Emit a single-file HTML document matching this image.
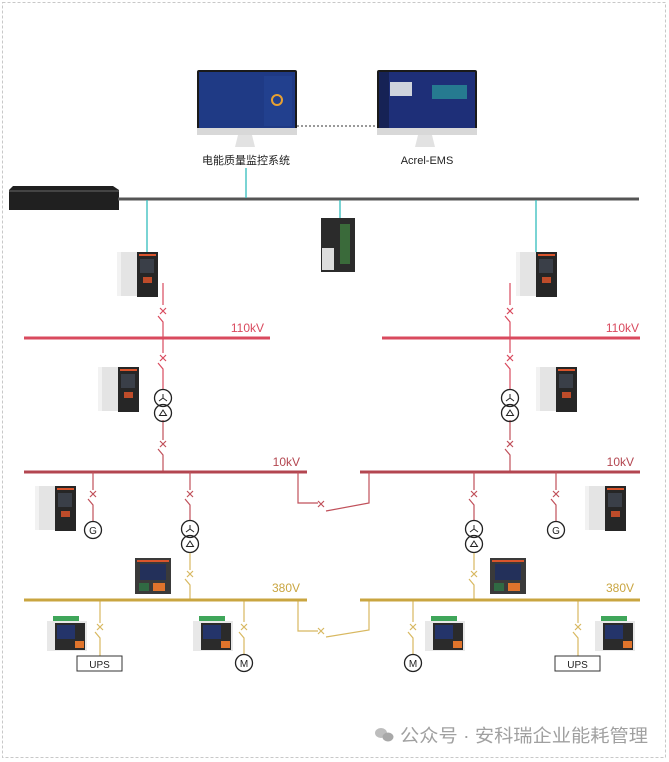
<!DOCTYPE html>
<html><head><meta charset="utf-8"><style>
html,body{margin:0;padding:0;background:#fff;}
svg{display:block;}
text{font-family:"Liberation Sans","Noto Sans CJK SC",sans-serif;}
</style></head><body>
<svg width="669" height="762" viewBox="0 0 669 762" xmlns="http://www.w3.org/2000/svg">
<defs>
<g id="relay">
  <rect x="0" y="0" width="22" height="44" fill="#e4e4e4"/>
  <rect x="0" y="0" width="4" height="44" fill="#f2f2f2"/>
  <rect x="20" y="0" width="21" height="45" fill="#262626"/>
  <rect x="22" y="2" width="17" height="2" fill="#d9542c"/>
  <rect x="23" y="7" width="14" height="14" fill="#3a3f48"/>
  <rect x="26" y="25" width="9" height="6" fill="#d9542c" opacity=".85"/>
</g>
<g id="meter">
  <rect x="0" y="0" width="36" height="36" fill="#3a3a3a"/>
  <rect x="2" y="2" width="32" height="2" fill="#d9542c"/>
  <rect x="5" y="6" width="26" height="16" fill="#23305a"/>
  <rect x="4" y="25" width="10" height="8" fill="#2a8a4a" opacity=".6"/>
  <rect x="18" y="25" width="12" height="8" fill="#e0742c"/>
</g>
<g id="din">
  <rect x="6" y="0" width="26" height="5" fill="#3fa65a"/>
  <rect x="0" y="5" width="40" height="30" fill="#e8e8e8"/>
  <rect x="8" y="7" width="30" height="27" fill="#2b2b2b"/>
  <rect x="10" y="9" width="18" height="14" fill="#24346a"/>
  <rect x="28" y="25" width="9" height="7" fill="#e0742c"/>
</g>
<g id="xf">
  <circle cx="0" cy="0" r="8.5" fill="#fff" stroke="#222" stroke-width="1.3"/>
  <circle cx="0" cy="15" r="8.5" fill="none" stroke="#222" stroke-width="1.3"/>
  <path d="M0 -4 V0 M0 0 L-4 3 M0 0 L4 3" stroke="#222" stroke-width="1" fill="none"/>
  <path d="M-3.5 17.5 L0 12 L3.5 17.5 Z" stroke="#222" stroke-width="1" fill="none"/>
</g>
</defs>
<rect x="2.5" y="2.5" width="663" height="755" fill="none" stroke="#c8c8c8" stroke-dasharray="3,2"/>

<g>
  <rect x="197" y="70" width="100" height="64" rx="2" fill="#1a1a1a"/>
  <rect x="199" y="72" width="96" height="56" fill="#1f3a85"/>
  <rect x="264" y="76" width="28" height="50" fill="#22408e"/>
  <circle cx="277" cy="100" r="5" fill="none" stroke="#e8a030" stroke-width="2"/>
  <rect x="197" y="128" width="100" height="7" fill="#d8d8d8"/>
  <path d="M238 135 L252 135 L255 147 L235 147 Z" fill="#e2e2e2"/>
  <rect x="377" y="70" width="100" height="64" rx="2" fill="#1a1a1a"/>
  <rect x="379" y="72" width="96" height="56" fill="#1e2f78"/>
  <rect x="379" y="72" width="10" height="56" fill="#162255"/>
  <rect x="390" y="82" width="22" height="14" fill="#cfd4dc"/>
  <rect x="432" y="85" width="35" height="14" fill="#2a9a9a" opacity=".7"/>
  <rect x="377" y="128" width="100" height="7" fill="#d8d8d8"/>
  <path d="M418 135 L432 135 L435 147 L415 147 Z" fill="#e2e2e2"/>
  <line x1="297" y1="126" x2="377" y2="126" stroke="#333" stroke-dasharray="2,2"/>
  <text x="246" y="164" font-size="11" fill="#222" text-anchor="middle">电能质量监控系统</text>
  <text x="427" y="164" font-size="11" fill="#222" text-anchor="middle">Acrel-EMS</text>
</g>

<path d="M13 186 L113 186 L119 190 L119 210 L9 210 L9 190 Z" fill="#202020"/>
<rect x="9" y="190" width="110" height="2" fill="#444"/>
<line x1="118" y1="199" x2="639" y2="199" stroke="#555" stroke-width="3"/>
<g stroke="#33bdbd" stroke-width="1.3">
<line x1="246" y1="168" x2="246" y2="198"/>
<line x1="147" y1="200" x2="147" y2="252"/>
<line x1="340" y1="200" x2="340" y2="220"/>
<line x1="536" y1="200" x2="536" y2="252"/>
</g>
<rect x="321" y="218" width="34" height="54" fill="#2b2b2b"/>
<rect x="322" y="248" width="12" height="22" fill="#ddd"/>
<rect x="340" y="224" width="10" height="40" fill="#3a6a3a"/>

<use href="#relay" x="117" y="252"/>
<use href="#relay" x="516" y="252"/>
<use href="#relay" x="98" y="367"/>
<use href="#relay" x="536" y="367"/>
<use href="#relay" x="35" y="486"/>
<use href="#relay" x="585" y="486"/>
<use href="#meter" x="135" y="558"/>
<use href="#meter" x="490" y="558"/>
<use href="#din" x="47" y="616"/>
<use href="#din" x="193" y="616"/>
<use href="#din" x="425" y="616"/>
<use href="#din" x="595" y="616"/>

<g stroke="#d94a5e" stroke-width="1.2" fill="none">
<path d="M163 283 V305 M160 308 L166 314 M166 308 L160 314 M158 316 L163 322 V338"/>
<path d="M163 338 V353 M160 355 L166 361 M166 355 L160 361 M158 363 L163 369 V390"/>
<path d="M510 283 V305 M507 308 L513 314 M513 308 L507 314 M505 316 L510 322 V338"/>
<path d="M510 338 V353 M507 355 L513 361 M513 355 L507 361 M505 363 L510 369 V390"/>
</g>
<g stroke="#c0505a" stroke-width="1.2" fill="none">
<path d="M163 420 V440 M160 441 L166 447 M166 441 L160 447 M158 449 L163 455 V471"/>
<path d="M510 420 V440 M507 441 L513 447 M513 441 L507 447 M505 449 L510 455 V471"/>
</g>
<line x1="24" y1="338" x2="270" y2="338" stroke="#d94a5e" stroke-width="3"/>
<line x1="382" y1="338" x2="640" y2="338" stroke="#d94a5e" stroke-width="3"/>
<text x="264" y="332" font-size="12" fill="#d94a5e" text-anchor="end">110kV</text>
<text x="639" y="332" font-size="12" fill="#d94a5e" text-anchor="end">110kV</text>
<use href="#xf" x="163" y="398"/>
<use href="#xf" x="510" y="398"/>

<line x1="24" y1="472" x2="307" y2="472" stroke="#b34650" stroke-width="3"/>
<line x1="360" y1="472" x2="640" y2="472" stroke="#b34650" stroke-width="3"/>
<text x="300" y="466" font-size="12" fill="#b34650" text-anchor="end">10kV</text>
<text x="634" y="466" font-size="12" fill="#b34650" text-anchor="end">10kV</text>
<g stroke="#c0505a" stroke-width="1.2" fill="none">
<path d="M93 472 V490 M90 491 L96 497 M96 491 L90 497 M88 499 L93 505 V521"/>
<path d="M190 472 V490 M187 491 L193 497 M193 491 L187 497 M185 499 L190 505 V520"/>
<path d="M474 472 V490 M471 491 L477 497 M477 491 L471 497 M469 499 L474 505 V520"/>
<path d="M556 472 V490 M553 491 L559 497 M559 491 L553 497 M551 499 L556 505 V521"/>
<path d="M298 472 V503 H318 M318 501 L324 507 M324 501 L318 507 M326 511 L369 503 V472"/>
</g>
<circle cx="93" cy="530" r="8.5" fill="#fff" stroke="#222" stroke-width="1.3"/>
<text x="93" y="534" font-size="10" text-anchor="middle" fill="#222">G</text>
<circle cx="556" cy="530" r="8.5" fill="#fff" stroke="#222" stroke-width="1.3"/>
<text x="556" y="534" font-size="10" text-anchor="middle" fill="#222">G</text>
<use href="#xf" x="190" y="529"/>
<use href="#xf" x="474" y="529"/>

<g stroke="#d8b860" stroke-width="1.2" fill="none">
<path d="M190 553 V570 M187 571 L193 577 M193 571 L187 577 M185 579 L190 585 V600"/>
<path d="M474 553 V570 M471 571 L477 577 M477 571 L471 577 M469 579 L474 585 V600"/>
<path d="M100 600 V623 M97 624 L103 630 M103 624 L97 630 M95 632 L100 638 V656"/>
<path d="M244 600 V622 M241 624 L247 630 M247 624 L241 630 M239 632 L244 638 V654"/>
<path d="M413 600 V622 M410 624 L416 630 M416 624 L410 630 M408 632 L413 638 V654"/>
<path d="M578 600 V623 M575 624 L581 630 M581 624 L575 630 M573 632 L578 638 V656"/>
<path d="M298 600 V631 H318 M318 628 L324 634 M324 628 L318 634 M326 637 L369 630 V600"/>
</g>
<line x1="24" y1="600" x2="307" y2="600" stroke="#c9a540" stroke-width="3"/>
<line x1="360" y1="600" x2="640" y2="600" stroke="#c9a540" stroke-width="3"/>
<text x="300" y="592" font-size="12" fill="#c9a540" text-anchor="end">380V</text>
<text x="634" y="592" font-size="12" fill="#c9a540" text-anchor="end">380V</text>
<rect x="77" y="656" width="45" height="15" fill="#fff" stroke="#333"/>
<text x="99.5" y="668" font-size="10" text-anchor="middle" fill="#222">UPS</text>
<rect x="555" y="656" width="45" height="15" fill="#fff" stroke="#333"/>
<text x="577.5" y="668" font-size="10" text-anchor="middle" fill="#222">UPS</text>
<circle cx="244" cy="663" r="8.5" fill="#fff" stroke="#222" stroke-width="1.3"/>
<text x="244" y="667" font-size="10" text-anchor="middle" fill="#222">M</text>
<circle cx="413" cy="663" r="8.5" fill="#fff" stroke="#222" stroke-width="1.3"/>
<text x="413" y="667" font-size="10" text-anchor="middle" fill="#222">M</text>

<ellipse cx="381" cy="733" rx="6" ry="5" fill="#bdbdbd"/>
<ellipse cx="388" cy="737" rx="5.5" ry="4.5" fill="#a8a8a8"/>
<text x="400" y="742" font-size="18" fill="#a0a0a0" textLength="248" lengthAdjust="spacingAndGlyphs">公众号 · 安科瑞企业能耗管理</text>
</svg>
</body></html>
